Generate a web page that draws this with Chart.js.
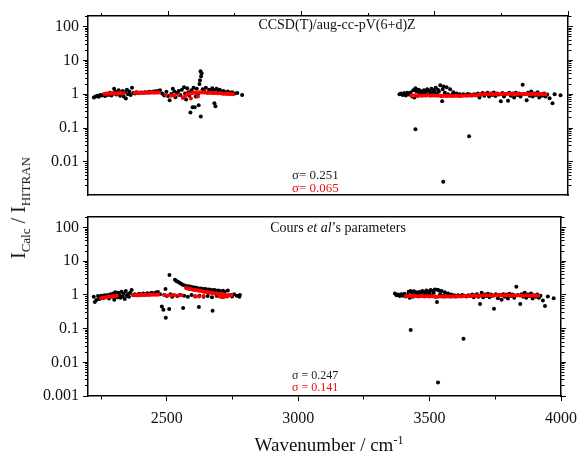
<!DOCTYPE html>
<html>
<head>
<meta charset="utf-8">
<script src="https://cdn.jsdelivr.net/npm/chart.js@4"></script>
<style>
  body { margin: 0; background: #fff; }
  #wrap { position: relative; width: 585px; height: 454px; font-family: "Liberation Serif", "Times New Roman", serif; color: #111; }
  canvas { position: absolute; left: 0; }
  .lbl { position: absolute; white-space: nowrap; line-height: 1; }
</style>
</head>
<body>
<div id="wrap">
  <canvas id="topChart" width="585" height="210" style="top:0"></canvas>
  <canvas id="botChart" width="585" height="251" style="top:203px"></canvas>

  <div class="lbl" style="left:337px;top:18px;font-size:14px;transform:translateX(-50%)">CCSD(T)/aug-cc-pV(6+d)Z</div>
  <div class="lbl" style="left:338px;top:221px;font-size:14px;transform:translateX(-50%)">Cours <i>et al</i>’s parameters</div>

  <div class="lbl" style="left:292px;top:168px;font-size:13px;color:#222">σ= 0.251</div>
  <div class="lbl" style="left:292px;top:181px;font-size:13px;color:#f01010">σ= 0.065</div>
  <div class="lbl" style="left:292px;top:369px;font-size:12px;color:#222">σ = 0.247</div>
  <div class="lbl" style="left:292px;top:381px;font-size:12px;color:#f01010">σ = 0.141</div>

  <div class="lbl" style="left:20px;top:208px;font-size:20px;transform:translate(-50%,-50%) rotate(-90deg)">I<sub style="font-size:13px">Calc</sub> / I<sub style="font-size:13px">HITRAN</sub></div>
  <div class="lbl" style="left:329px;top:434px;font-size:19px;transform:translateX(-50%)">Wavenumber / cm<sup style="font-size:12px">-1</sup></div>
</div>

<script>
// x axis ticks (wavenumber), y axis decades
const xTicks = [2250, 2500, 2750, 3000, 3250, 3500, 3750, 4000];
const xTickLabels = { 2500: "2500", 3000: "3000", 3500: "3500", 4000: "4000" };
const yDecades = [0.001, 0.01, 0.1, 1, 10, 100];
const yTickLabels = ["0.001", "0.01", "0.1", "1", "10", "100"];

// CCSD(T)/aug-cc-pV(6+d)Z panel
const ccsdBlack = [
  [2222,0.80],[2228,0.86],[2235,0.90],[2240,0.84],[2246,0.95],[2252,0.92],[2258,0.98],[2264,0.88],[2270,1.02],[2276,0.95],
  [2282,1.10],[2288,0.92],[2294,1.05],[2298,1.45],[2302,1.20],[2306,0.98],[2310,1.12],[2315,1.30],[2320,0.90],[2325,1.05],
  [2330,1.25],[2334,0.85],[2338,1.15],[2342,0.75],[2346,1.35],[2350,1.00],[2355,1.20],[2360,0.95],[2365,1.55],[2370,1.10],
  [2376,1.05],[2382,1.15],[2390,1.08],[2398,1.12],[2406,1.10],[2414,1.15],[2422,1.12],[2430,1.18],[2438,1.15],[2446,1.20],
  [2454,1.22],[2462,1.25],[2470,1.30],[2478,1.05],[2486,0.92],[2494,1.18],[2500,0.88],[2506,0.66],[2512,1.02],[2518,1.45],
  [2524,1.20],[2528,0.81],[2534,1.10],[2540,1.25],[2546,0.95],[2552,1.35],[2556,0.78],[2560,1.60],[2564,1.05],[2568,0.70],
  [2572,1.50],[2576,1.15],[2580,0.90],[2584,0.29],[2588,1.30],[2592,0.41],[2596,1.55],[2600,0.41],[2604,0.85],[2608,1.45],
  [2612,1.00],[2615,0.47],[2618,2.0],[2620,2.6],[2622,4.8],[2623,0.22],[2624,3.4],[2626,4.2],[2630,1.40],[2636,1.20],
  [2642,1.55],[2648,1.10],[2654,1.35],[2660,1.25],[2666,1.50],[2672,1.30],[2674,0.54],[2678,0.44],[2682,1.45],[2688,1.20],
  [2694,1.35],[2700,1.15],[2708,1.25],[2716,1.12],[2724,1.20],[2732,1.10],[2740,1.15],[2750,1.05],[2760,1.08],[2778,0.95],
  [3368,1.00],[3374,1.05],[3380,0.95],[3386,1.08],[3392,0.92],[3398,1.10],[3404,0.98],[3410,1.12],[3416,0.85],[3420,1.30],
  [3424,0.80],[3428,1.50],[3428,0.092],[3432,1.20],[3436,0.90],[3440,1.35],[3444,1.05],[3448,1.25],[3452,0.95],[3456,1.15],
  [3460,1.30],[3464,1.00],[3468,1.20],[3472,1.40],[3476,0.95],[3480,1.25],[3484,1.10],[3488,1.45],[3492,1.05],[3496,1.30],
  [3500,1.15],[3504,1.55],[3508,1.00],[3512,1.35],[3516,1.20],[3521,1.85],[3524,0.90],[3528,0.62],[3530,1.40],[3532,0.0026],
  [3533,1.70],[3538,1.10],[3545,1.60],[3550,1.00],[3558,1.40],[3564,0.95],[3570,1.15],[3576,1.00],[3582,1.05],[3588,0.95],
  [3594,1.00],[3600,0.92],[3608,1.00],[3616,0.95],[3624,1.02],[3629,0.057],[3632,0.98],[3640,0.92],[3648,1.00],[3656,0.95],
  [3662,1.05],[3668,0.80],[3674,1.00],[3680,1.08],[3686,0.90],[3692,1.02],[3698,1.10],[3704,0.85],[3710,1.05],[3716,0.95],
  [3722,1.12],[3728,0.88],[3734,1.05],[3740,0.98],[3748,0.62],[3754,1.08],[3760,0.85],[3766,1.02],[3775,0.64],[3780,1.10],
  [3786,0.90],[3792,1.05],[3798,0.80],[3804,1.10],[3810,0.95],[3816,1.05],[3822,0.85],[3830,1.90],[3836,1.02],[3845,0.66],
  [3850,1.10],[3856,0.90],[3862,1.20],[3868,0.85],[3874,1.05],[3880,0.95],[3886,1.15],[3892,0.80],[3898,1.00],[3904,0.90],
  [3910,1.05],[3916,0.85],[3922,0.98],[3931,0.76],[3942,0.54],[3950,1.00],[3972,0.93]
];
const ccsdRed = [
  [2262,1.02],[2268,1.05],[2274,1.03],[2280,1.06],[2286,1.04],[2292,1.07],[2298,1.05],[2304,1.06],[2310,1.04],[2316,1.08],
  [2322,1.06],[2328,1.05],[2334,1.07],[2376,1.10],[2382,1.09],[2388,1.10],[2394,1.11],[2400,1.10],[2406,1.12],[2412,1.11],
  [2418,1.10],[2424,1.12],[2430,1.11],[2436,1.13],[2442,1.12],[2448,1.11],[2454,1.12],[2460,1.13],[2466,1.12],[2492,0.95],
  [2512,0.90],[2524,0.92],[2540,0.95],[2556,0.80],[2564,0.88],[2572,1.00],[2580,1.05],[2586,0.75],[2590,1.08],[2596,1.10],
  [2602,1.12],[2608,1.08],[2612,0.85],[2618,1.14],[2624,1.12],[2630,1.15],[2636,1.13],[2642,1.12],[2648,1.10],[2654,1.11],
  [2660,1.10],[2666,1.09],[2672,1.08],[2678,1.09],[2684,1.07],[2690,1.06],[2696,1.06],[2702,1.05],[2708,1.04],[2714,1.04],
  [2720,1.03],[2726,1.02],[2732,1.02],[2738,1.01],[2744,1.00],
  [3412,0.92],[3420,0.90],[3428,0.93],[3436,0.91],[3444,0.92],[3452,0.90],[3460,0.92],[3468,0.91],[3476,0.93],[3484,0.90],
  [3492,0.91],[3500,0.92],[3508,0.90],[3516,0.91],[3524,0.89],[3532,0.90],[3540,0.88],[3548,0.89],[3556,0.90],[3564,0.88],
  [3572,0.89],[3580,0.90],[3588,0.88],[3596,0.89],[3604,0.90],[3612,0.91],[3620,0.90],[3628,0.92],[3636,0.91],[3644,0.93],
  [3652,0.92],[3660,0.94],[3668,0.96],[3676,0.98],[3684,1.00],[3692,1.01],[3700,1.00],[3708,1.02],[3716,1.01],[3724,1.00],
  [3732,1.02],[3740,1.01],[3748,1.00],[3756,1.02],[3764,1.01],[3772,1.03],[3780,1.02],[3788,1.01],[3796,1.03],[3804,1.02],
  [3812,1.01],[3820,1.03],[3828,1.02],[3836,1.01],[3844,1.02],[3852,1.00],[3860,1.01],[3868,1.02],[3876,1.00],[3884,1.01],
  [3892,1.00],[3900,0.99],[3908,1.00],[3916,0.98]
];

// Cours et al's parameters panel
const coursBlack = [
  [2222,0.88],[2226,0.62],[2232,0.70],[2238,0.92],[2244,0.75],[2250,0.95],[2256,0.80],[2262,0.98],[2268,0.85],[2274,1.00],
  [2280,0.78],[2286,1.05],[2292,0.90],[2296,1.10],[2300,0.72],[2304,1.20],[2308,0.95],[2312,0.85],[2316,1.15],[2320,1.00],
  [2324,0.82],[2328,1.25],[2332,0.90],[2336,1.08],[2340,0.75],[2344,1.30],[2348,0.95],[2352,1.05],[2356,0.88],[2360,1.15],
  [2366,1.40],[2372,1.00],[2378,1.05],[2386,0.98],[2394,1.08],[2402,1.02],[2410,1.10],[2418,1.05],[2426,1.12],[2434,1.08],
  [2442,1.15],[2450,1.10],[2458,1.18],[2466,1.22],[2474,1.05],[2481,0.45],[2487,0.36],[2490,1.00],[2495,1.50],[2496,0.21],
  [2500,0.92],[2509,0.38],[2510,3.9],[2514,1.05],[2520,0.88],[2526,0.98],[2531,2.80],[2536,2.60],[2540,0.92],[2542,2.45],
  [2548,2.30],[2550,1.00],[2554,2.15],[2560,2.00],[2562,0.41],[2566,0.95],[2568,1.90],[2574,1.85],[2580,0.88],[2584,1.80],
  [2590,1.75],[2594,1.00],[2598,1.70],[2604,1.65],[2608,0.90],[2612,1.62],[2618,1.58],[2622,0.44],[2624,0.95],[2628,1.55],
  [2634,1.52],[2640,0.88],[2644,1.50],[2650,1.48],[2656,0.92],[2660,1.45],[2666,1.42],[2672,0.85],[2674,0.34],[2678,1.40],
  [2684,1.38],[2690,0.95],[2696,1.35],[2702,1.30],[2708,0.88],[2714,1.32],[2720,1.25],[2726,0.92],[2732,1.35],[2740,1.00],
  [2748,0.90],[2756,1.05],[2766,0.95],[2776,0.88],[2778,1.00],
  [3368,1.10],[3374,0.98],[3380,1.02],[3386,0.92],[3392,1.05],[3398,0.95],[3404,1.08],[3410,0.90],[3416,1.00],[3420,1.25],
  [3424,0.82],[3428,1.30],[3428,0.091],[3432,1.15],[3436,0.88],[3440,1.28],[3444,1.00],[3448,1.20],[3452,0.92],[3456,1.12],
  [3460,1.22],[3464,0.98],[3468,1.18],[3472,1.30],[3476,0.92],[3480,1.20],[3484,1.05],[3488,1.35],[3492,1.00],[3496,1.25],
  [3500,1.10],[3504,1.40],[3508,0.95],[3512,1.30],[3516,1.15],[3520,1.45],[3524,0.88],[3528,0.62],[3530,1.42],[3532,0.0025],
  [3536,1.35],[3540,1.05],[3546,1.30],[3552,0.95],[3558,1.20],[3564,0.92],[3570,1.10],[3576,0.98],[3582,1.02],[3588,0.92],
  [3594,0.98],[3600,0.90],[3608,0.98],[3616,0.93],[3624,1.00],[3629,0.050],[3632,0.95],[3640,0.90],[3648,0.98],[3656,0.92],
  [3662,1.02],[3668,0.85],[3674,0.98],[3680,1.05],[3686,0.88],[3692,0.54],[3698,1.15],[3704,0.85],[3710,1.02],[3716,0.92],
  [3722,1.08],[3728,0.85],[3734,1.02],[3740,0.95],[3745,0.39],[3752,1.05],[3760,0.80],[3766,1.00],[3774,0.72],[3780,1.05],
  [3786,0.88],[3792,1.02],[3798,0.78],[3804,1.08],[3810,0.92],[3816,1.02],[3822,0.82],[3830,1.76],[3836,1.00],[3845,0.54],
  [3850,1.05],[3856,0.88],[3862,1.15],[3868,0.82],[3874,1.02],[3880,0.92],[3886,1.10],[3892,0.78],[3898,0.98],[3904,0.88],
  [3910,1.02],[3916,0.82],[3922,0.95],[3931,0.68],[3939,0.47],[3950,0.90],[3972,0.80]
];
const coursRed = [
  [2250,0.80],[2256,0.82],[2262,0.83],[2268,0.85],[2274,0.86],[2280,0.88],[2286,0.89],[2292,0.90],[2298,0.92],[2304,0.93],
  [2310,0.95],[2372,0.98],[2378,0.97],[2384,0.98],[2390,0.99],[2396,0.98],[2402,0.99],[2408,1.00],[2414,0.99],[2420,1.00],
  [2426,1.01],[2432,1.00],[2438,1.01],[2444,1.02],[2450,1.01],[2456,1.02],[2462,1.01],[2468,1.02],[2492,0.97],[2504,0.96],
  [2516,0.98],[2530,0.97],[2544,0.96],[2556,0.98],[2573,1.60],[2578,1.55],[2584,1.52],[2590,1.48],[2596,1.45],[2602,1.42],
  [2608,1.40],[2614,1.37],[2620,1.35],[2626,1.32],[2632,1.30],[2638,1.27],[2644,1.25],[2650,1.22],[2656,1.20],[2662,1.18],
  [2668,1.16],[2674,1.14],[2680,1.12],[2686,1.10],[2692,1.08],[2698,1.06],[2704,1.05],[2710,1.03],[2716,1.02],[2722,1.00],
  [2728,0.98],[2734,0.96],[2740,1.00],[2608,0.92],[2622,0.90],[2640,0.93],[2700,0.90],[2712,0.85],[2720,0.88],[2730,0.90],
  [2746,1.00],
  [3410,0.93],[3418,0.91],[3426,0.92],[3434,0.90],[3442,0.92],[3450,0.91],[3458,0.90],[3466,0.92],[3474,0.91],[3482,0.90],
  [3490,0.92],[3498,0.90],[3506,0.91],[3514,0.89],[3522,0.90],[3530,0.88],[3538,0.90],[3546,0.89],[3554,0.88],[3562,0.90],
  [3570,0.89],[3578,0.88],[3586,0.90],[3594,0.89],[3602,0.90],[3610,0.91],[3618,0.90],[3626,0.91],[3634,0.92],[3642,0.91],
  [3650,0.92],[3658,0.93],[3666,0.94],[3674,0.95],[3682,0.96],[3690,0.95],[3698,0.96],[3706,0.97],[3714,0.96],[3722,0.97],
  [3730,0.96],[3738,0.97],[3746,0.96],[3754,0.97],[3762,0.98],[3770,0.97],[3778,0.96],[3786,0.97],[3794,0.98],[3802,0.97],
  [3810,0.96],[3818,0.97],[3826,0.96],[3834,0.97],[3842,0.96],[3850,0.95],[3858,0.96],[3866,0.97],[3874,0.96],[3882,0.95],
  [3890,0.96],[3898,0.95],[3906,0.96],[3914,0.95]
];

const FONT = "'Liberation Serif', 'Times New Roman', serif";
const Y_MAX = 205;

function isDecade(v) {
  const lg = Math.log10(v);
  return Math.abs(lg - Math.round(lg)) < 1e-9;
}

// minor ticks shorter: dash hides part of the tick line
// top/left ticks are drawn from outside in, bottom/right from the border out
function dashFor(major, outerFirst) {
  if (major) return [];
  return outerFirst ? [0, 2, 3, 20] : [3, 20];
}

function yTickList(min) {
  const list = [];
  yDecades.forEach(d => {
    for (let s = 1; s <= 9; s++) {
      const v = +(d * s).toPrecision(3);
      if (v >= min && v <= Y_MAX) list.push({ value: v });
    }
  });
  return list;
}

function yAxis(pos, min, width) {
  const outer = pos === 'left';
  return {
    type: 'logarithmic', position: pos, min: min, max: Y_MAX,
    afterBuildTicks: s => { s.ticks = yTickList(min); },
    afterFit: s => { s.width = width; },
    border: { display: true, color: '#000', width: 1.5 },
    grid: {
      drawOnChartArea: false, drawTicks: true, tickLength: 5, tickColor: '#000', tickWidth: 1,
      tickBorderDash: c => dashFor(isDecade(c.tick.value), outer)
    },
    ticks: {
      display: outer, autoSkip: false, padding: 4, color: '#111',
      font: { family: FONT, size: 16 },
      callback: v => isDecade(v) ? yTickLabels[Math.round(Math.log10(v)) + 3] : ''
    }
  };
}

function xAxis(pos, height, showTicks, showLabels) {
  return {
    type: 'linear', position: pos, min: 2200, max: 4000,
    afterBuildTicks: s => { s.ticks = xTicks.map(v => ({ value: v })); },
    afterFit: s => { s.height = height; },
    border: { display: true, color: '#000', width: 1.5 },
    grid: {
      drawOnChartArea: false, drawTicks: showTicks, tickLength: 5, tickColor: '#000', tickWidth: 1,
      tickBorderDash: c => dashFor(c.tick.value % 500 === 0, pos === 'top')
    },
    ticks: {
      display: showLabels, autoSkip: false, maxRotation: 0, padding: 8, color: '#111',
      font: { family: FONT, size: 16 },
      callback: v => xTickLabels[v] || ''
    }
  };
}

function toPoints(arr) {
  return arr.map(p => ({ x: p[0], y: p[1] }));
}

function makePanel(canvasId, black, red, yMin, isTop) {
  const ctx = document.getElementById(canvasId).getContext('2d');
  new Chart(ctx, {
    type: 'scatter',
    data: {
      datasets: [
        { label: 'calc', data: toPoints(red), order: 1, pointRadius: 2, pointBackgroundColor: '#ff0000', pointBorderWidth: 0, xAxisID: 'x', yAxisID: 'y' },
        { label: 'hitran', data: toPoints(black), order: 2, pointRadius: 2, pointBackgroundColor: '#000', pointBorderWidth: 0, xAxisID: 'x', yAxisID: 'y' }
      ]
    },
    options: {
      responsive: false,
      animation: false,
      devicePixelRatio: 1,
      layout: { padding: 0 },
      plugins: { legend: { display: false }, tooltip: { enabled: false } },
      scales: {
        // heights kept above the label overhang so the plot areas land where the reference has them
        x: isTop ? xAxis('bottom', 15, false, false) : xAxis('bottom', 58, true, true),
        x2: isTop ? xAxis('top', 16, true, false) : xAxis('top', 14, false, false),
        y: yAxis('left', yMin, 88),
        y2: yAxis('right', yMin, 17)
      }
    }
  });
}

makePanel('topChart', ccsdBlack, ccsdRed, 0.00105, true);
makePanel('botChart', coursBlack, coursRed, 0.001, false);
</script>
</body>
</html>
